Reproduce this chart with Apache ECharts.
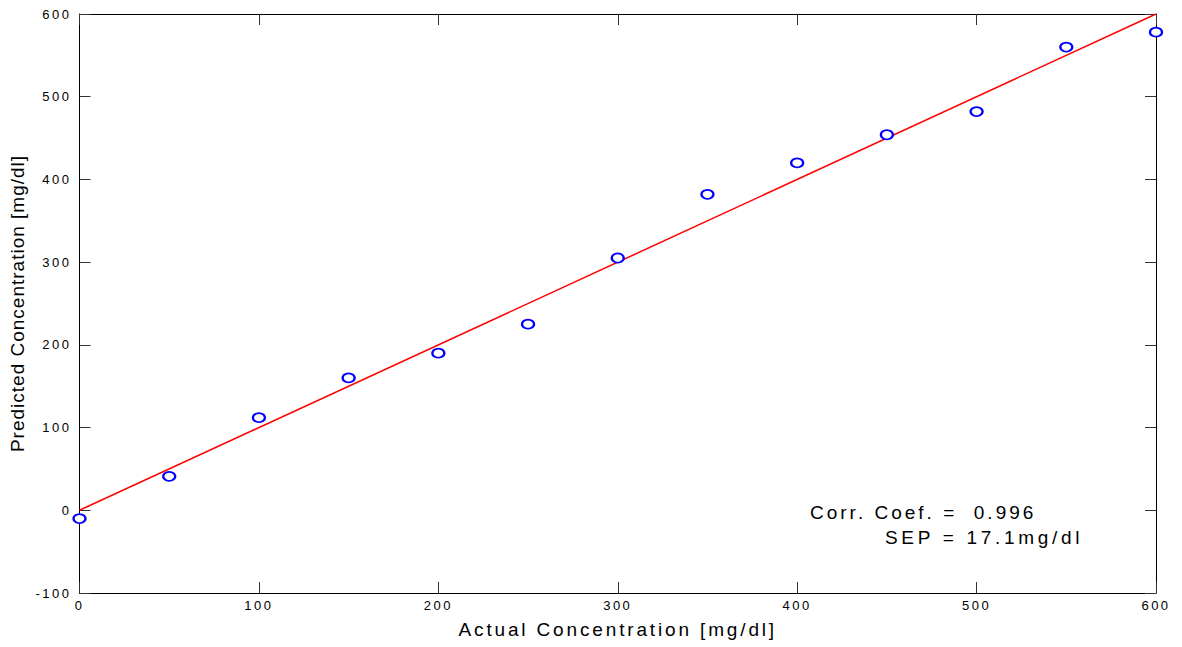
<!DOCTYPE html>
<html><head><meta charset="utf-8">
<script src="https://cdn.jsdelivr.net/npm/echarts@6/dist/echarts.min.js"></script>
<style>
html,body{margin:0;padding:0;background:#fff;}
#chart{width:1182px;height:647px;}
</style></head>
<body><div id="chart"></div>
<script>
const actual = [0, 50, 100, 150, 200, 250, 300, 350, 400, 450, 500, 550, 600];
const predicted = [-10, 41, 112, 160, 190, 225, 305, 382, 420, 454, 482, 560, 578];
const fitLine = [[0, 0], [600, 600]];
const xTitle = 'Actual Concentration [mg/dl]';
const yTitle = 'Predicted Concentration [mg/dl]';
const note1 = 'Corr. Coef. =  0.996';
const note2 = 'SEP = 17.1mg/dl';

const chart = echarts.init(document.getElementById('chart'), null, {renderer: 'svg'});
const font = 'Liberation Sans, Arial, sans-serif';
const axisBase = {
  type: 'value',
  axisLine: {show: true, onZero: false, lineStyle: {color: '#000', width: 1}},
  axisTick: {show: true, inside: true, length: 11, lineStyle: {color: '#333', width: 1}},
  splitLine: {show: false}
};
chart.setOption({
  animation: false,
  backgroundColor: '#fff',
  grid: {left: 79, right: 26, top: 14, bottom: 54},
  xAxis: [
    Object.assign({}, axisBase, {
      min: 0, max: 600, interval: 100, position: 'bottom',
      axisLabel: {color: '#000', fontSize: 13, fontFamily: font, margin: 6},
      name: xTitle, nameLocation: 'middle', nameGap: 36,
      nameTextStyle: {color: '#000', fontSize: 19, fontFamily: font, verticalAlign: 'middle'}
    }),
    Object.assign({}, axisBase, {
      min: 0, max: 600, interval: 100, position: 'top',
      axisLabel: {show: false}
    })
  ],
  yAxis: [
    Object.assign({}, axisBase, {
      min: -100, max: 600, interval: 100, position: 'left',
      axisLabel: {color: '#000', fontSize: 13, fontFamily: font, margin: 8},
      name: yTitle, nameLocation: 'middle', nameGap: 62,
      nameTextStyle: {color: '#000', fontSize: 19, fontFamily: font, verticalAlign: 'middle'}
    }),
    Object.assign({}, axisBase, {
      min: -100, max: 600, interval: 100, position: 'right',
      axisLabel: {show: false}
    })
  ],
  series: [
    {
      type: 'line', data: fitLine, symbol: 'none',
      lineStyle: {color: '#ff0000', width: 1.5}, z: 2
    },
    {
      type: 'scatter', data: actual.map((x, i) => [x, predicted[i]]),
      symbol: 'emptyCircle', symbolSize: [12, 9],
      itemStyle: {color: '#0000ff', borderColor: '#0000ff', borderWidth: 1.1, opacity: 1}, z: 3
    }
  ],
  graphic: [
    {type: 'text', left: 810, top: 503, style: {text: note1, fill: '#000', font: '19px ' + font}},
    {type: 'text', left: 885, top: 528, style: {text: note2, fill: '#000', font: '19px ' + font}}
  ]
});
function fixSpacing(){
  document.querySelectorAll('#chart text').forEach(t => {
    const s = t.textContent;
    let ls = '2.5px';
    if (s === yTitle) ls = '1px';
    else if (s === xTitle) ls = '2.85px';
    else if (s === note1) ls = '3px';
    else if (s === note2) ls = '3.7px';
    t.setAttribute('letter-spacing', ls);
    t.style.letterSpacing = ls;
  });
}
chart.on('finished', fixSpacing);
fixSpacing();
</script></body></html>
